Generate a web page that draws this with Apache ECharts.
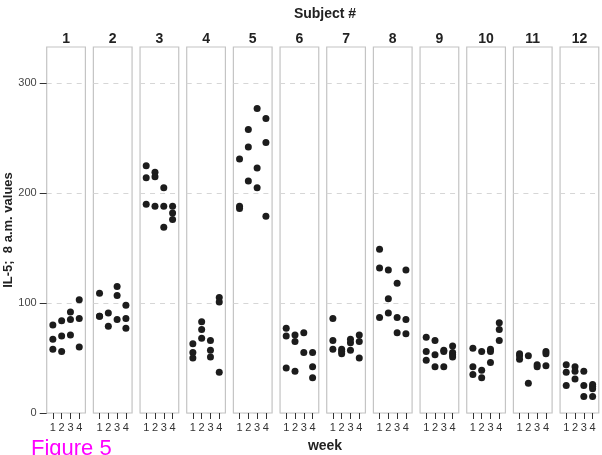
<!DOCTYPE html>
<html>
<head>
<meta charset="utf-8">
<script src="https://cdn.jsdelivr.net/npm/echarts@6/dist/echarts.min.js"></script>
<style>
  html, body { margin: 0; padding: 0; background: #fff; }
  #chart { width: 602px; height: 455px; }
</style>
</head>
<body>
<div id="chart"></div>
<script>
const weeks = [1, 2, 3, 4]
const yTicks = [0, 100, 200, 300]
const subjectNames = ['1', '2', '3', '4', '5', '6', '7', '8', '9', '10', '11', '12']

// IL-5 (8 a.m.) values, one row per week
const subject1 = [[80, 67, 58], [84, 70, 56], [92, 85, 71], [103, 86, 60]]
const subject2 = [[109, 88, 88], [91, 79], [115, 107, 85], [98, 86, 77]]
const subject3 = [[225, 214, 190], [219, 215, 188], [205, 188, 169], [188, 182, 176]]
const subject4 = [[63, 55, 50], [83, 76, 68], [66, 57, 51], [105, 101, 37]]
const subject5 = [[231, 188, 186], [258, 242, 211], [277, 223, 205], [268, 246, 179]]
const subject6 = [[77, 70, 41], [71, 65, 38], [73, 55], [55, 42, 32]]
const subject7 = [[86, 66, 58], [58, 56, 54], [67, 64, 57], [71, 65, 50]]
const subject8 = [[149, 132, 87], [130, 104, 91], [118, 87, 73], [130, 85, 72]]
const subject9 = [[69, 56, 48], [66, 53, 42], [57, 56, 42], [61, 55, 53, 51]]
const subject10 = [[59, 42, 35], [56, 39, 32], [58, 56, 46], [82, 76, 66]]
const subject11 = [[54, 52, 49], [52, 27], [44, 42], [56, 54, 43]]
const subject12 = [[44, 37, 25], [42, 38, 31], [38, 25, 15], [26, 24, 22, 15]]

const subjects = [subject1, subject2, subject3, subject4, subject5, subject6,
  subject7, subject8, subject9, subject10, subject11, subject12]

const chart = echarts.init(document.getElementById('chart'))

const panelLeft = 46.7
const panelStep = 46.67
const panelWidth = 38.7
const panelTop = 47
const panelHeight = 366

const grids = []
const xAxes = []
const yAxes = []
const series = []
const labels = []

subjects.forEach(function (rows, i) {
  const left = panelLeft + i * panelStep
  grids.push({
    left: left, top: panelTop, width: panelWidth, height: panelHeight,
    show: true, borderColor: '#c4c4c4', borderWidth: 1.2, backgroundColor: '#fff'
  })
  xAxes.push({
    gridIndex: i, type: 'value', min: 0.3, max: 4.7,
    axisLine: { show: false },
    axisTick: { show: true, customValues: weeks, length: 6, lineStyle: { color: '#333' } },
    axisLabel: { customValues: weeks, margin: 9, color: '#333', fontSize: 11, fontFamily: 'Liberation Sans' },
    splitLine: { show: false }
  })
  yAxes.push({
    gridIndex: i, type: 'value', min: 0, max: 333,
    name: i === 0 ? 'IL-5;  8 a.m. values' : '',
    nameLocation: 'middle', nameGap: 32,
    nameTextStyle: { fontWeight: 'bold', fontSize: 13, color: '#222', fontFamily: 'Liberation Sans' },
    axisLine: { show: false },
    axisTick: { show: i === 0, customValues: yTicks, length: 7, lineStyle: { color: '#333' } },
    axisLabel: { show: i === 0, customValues: yTicks, margin: 10, color: '#444', fontSize: 11, fontFamily: 'Liberation Sans' },
    splitLine: { show: true, lineStyle: { color: '#d6d6d6', type: [5, 5], width: 1 } }
  })
  const data = []
  rows.forEach(function (vals, w) {
    vals.forEach(function (v) { data.push([weeks[w], v]) })
  })
  series.push({
    type: 'scatter', xAxisIndex: i, yAxisIndex: i,
    symbolSize: 7, itemStyle: { color: '#1c1c1c', opacity: 1 },
    data: data
  })
  labels.push({
    type: 'text', x: left + panelWidth / 2, y: 39,
    style: { text: subjectNames[i], fontSize: 14, fontWeight: 'bold', fill: '#222',
      fontFamily: 'Liberation Sans', align: 'center', verticalAlign: 'middle' }
  })
})

chart.setOption({
  animation: false,
  grid: grids,
  xAxis: xAxes,
  yAxis: yAxes,
  series: series,
  graphic: labels.concat([
    { type: 'text', x: 325, y: 14,
      style: { text: 'Subject #', fontSize: 14, fontWeight: 'bold', fill: '#222', fontFamily: 'Liberation Sans',
        align: 'center', verticalAlign: 'middle' } },
    { type: 'text', x: 325, y: 446,
      style: { text: 'week', fontSize: 14, fontWeight: 'bold', fill: '#222', fontFamily: 'Liberation Sans',
        align: 'center', verticalAlign: 'middle' } },
    { type: 'text', left: 31, top: 438,
      style: { text: 'Figure 5', fontSize: 22, fill: '#ff00ff', fontFamily: 'Liberation Sans' } }
  ])
})
</script>
</body>
</html>
